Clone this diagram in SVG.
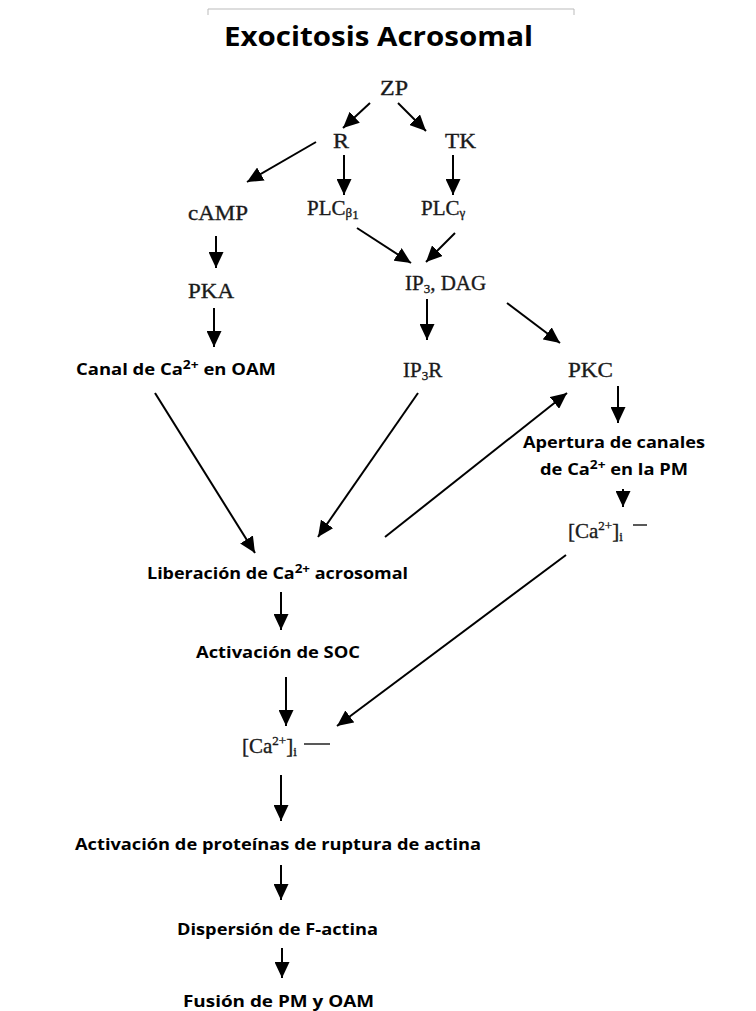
<svg xmlns="http://www.w3.org/2000/svg" width="756" height="1011" viewBox="0 0 756 1011">
<defs>
<marker id="ah" markerUnits="userSpaceOnUse" markerWidth="16" markerHeight="15" refX="16" refY="7.5" orient="auto">
<path d="M0,0 L16,7.5 L0,15 z" fill="#000"/>
</marker>
<style>
.s{font-family:"Liberation Serif","Times New Roman",serif;font-size:21px;fill:#1a1a1a;stroke:#1a1a1a;stroke-width:0.35px;}
.b{font-family:"Open Sans","Liberation Sans",sans-serif;font-weight:bold;font-size:16px;fill:#000;}
.t{font-family:"Open Sans","Liberation Sans",sans-serif;font-weight:bold;font-size:26px;fill:#000;}
.c line{stroke:#000;stroke-width:2;marker-end:url(#ah);}
.sub{font-size:12px;}
.s .sub{font-size:13px;}
</style>
</defs>
<rect width="756" height="1011" fill="#fff"/>
<path d="M208,15 L208,9 L574,9 L574,15" fill="none" stroke="#bbb" stroke-width="1"/>
<text class="t" x="224" y="46" textLength="309" lengthAdjust="spacingAndGlyphs">Exocitosis Acrosomal</text>

<g id="n-zp"><text class="s" x="380" y="95" textLength="28" lengthAdjust="spacingAndGlyphs">ZP</text></g>
<g id="n-r"><text class="s" x="333" y="148" textLength="16" lengthAdjust="spacingAndGlyphs">R</text></g>
<g id="n-tk"><text class="s" x="445" y="148" textLength="31" lengthAdjust="spacingAndGlyphs">TK</text></g>
<g id="n-camp"><text class="s" x="188" y="220" textLength="60" lengthAdjust="spacingAndGlyphs">cAMP</text></g>
<g id="n-plcb"><text class="s" x="307" y="215">PLC<tspan class="sub" dy="2">β</tspan><tspan class="sub" font-size="11" dy="2">1</tspan></text></g>
<g id="n-plcg"><text class="s" x="421" y="215">PLC<tspan class="sub" dy="2">γ</tspan></text></g>
<g id="n-pka"><text class="s" x="188" y="298" textLength="46" lengthAdjust="spacingAndGlyphs">PKA</text></g>
<g id="n-ip3dag"><text class="s" x="405" y="290">IP<tspan class="sub" dy="3">3</tspan><tspan dy="-3">, DAG</tspan></text></g>
<g id="n-canal"><text class="b" x="76" y="375" textLength="200" lengthAdjust="spacingAndGlyphs">Canal de Ca<tspan class="sub" dy="-6">2+</tspan><tspan dy="6"> en OAM</tspan></text></g>
<g id="n-ip3r"><text class="s" x="403" y="377">IP<tspan class="sub" dy="3">3</tspan><tspan dy="-3">R</tspan></text></g>
<g id="n-pkc"><text class="s" x="568" y="377" textLength="45" lengthAdjust="spacingAndGlyphs">PKC</text></g>
<g id="n-apertura">
<text class="b" x="523" y="448" textLength="182" lengthAdjust="spacingAndGlyphs">Apertura de canales</text>
<text class="b" x="540" y="475" textLength="148" lengthAdjust="spacingAndGlyphs">de Ca<tspan class="sub" dy="-6">2+</tspan><tspan dy="6"> en la PM</tspan></text>
</g>
<g id="n-ca-pm">
<text class="s" x="568" y="538">[Ca<tspan class="sub" dy="-8">2+</tspan><tspan dy="8">]</tspan><tspan class="sub" dy="3">i</tspan></text>
<line x1="633" y1="525" x2="647" y2="525" stroke="#222" stroke-width="1.5"/>
</g>
<g id="n-liberacion"><text class="b" x="147" y="579" textLength="261" lengthAdjust="spacingAndGlyphs">Liberación de Ca<tspan class="sub" dy="-6">2+</tspan><tspan dy="6"> acrosomal</tspan></text></g>
<g id="n-soc"><text class="b" x="196" y="658" textLength="164" lengthAdjust="spacingAndGlyphs">Activación de SOC</text></g>
<g id="n-ca-i">
<text class="s" x="242" y="753">[Ca<tspan class="sub" dy="-8">2+</tspan><tspan dy="8">]</tspan><tspan class="sub" dy="3">i</tspan></text>
<line x1="304" y1="744" x2="330" y2="744" stroke="#222" stroke-width="1.5"/>
</g>
<g id="n-proteinas"><text class="b" x="75" y="850" textLength="406" lengthAdjust="spacingAndGlyphs">Activación de proteínas de ruptura de actina</text></g>
<g id="n-dispersion"><text class="b" x="177" y="935" textLength="201" lengthAdjust="spacingAndGlyphs">Dispersión de F-actina</text></g>
<g id="n-fusion"><text class="b" x="183" y="1007" textLength="191" lengthAdjust="spacingAndGlyphs">Fusión de PM y OAM</text></g>

<g id="connectors" class="c">
<line x1="370" y1="103" x2="343" y2="128"/>
<line x1="398" y1="103" x2="426" y2="131"/>
<line x1="316" y1="142" x2="247" y2="182"/>
<line x1="344" y1="155" x2="344" y2="195"/>
<line x1="453" y1="155" x2="453" y2="195"/>
<line x1="216" y1="236" x2="216" y2="268"/>
<line x1="214" y1="308" x2="214" y2="347"/>
<line x1="357" y1="228" x2="411" y2="263"/>
<line x1="455" y1="233" x2="426" y2="262"/>
<line x1="427" y1="299" x2="427" y2="340"/>
<line x1="507" y1="303" x2="560" y2="343"/>
<line x1="618" y1="386" x2="618" y2="423"/>
<line x1="623" y1="489" x2="623" y2="507"/>
<line x1="155" y1="393" x2="255" y2="553"/>
<line x1="418" y1="393" x2="318" y2="537"/>
<line x1="385" y1="537" x2="567" y2="393"/>
<line x1="566" y1="555" x2="337" y2="726"/>
<line x1="281" y1="592" x2="281" y2="630"/>
<line x1="286" y1="677" x2="286" y2="726"/>
<line x1="281" y1="775" x2="281" y2="821"/>
<line x1="281" y1="865" x2="281" y2="900"/>
<line x1="282" y1="948" x2="282" y2="978"/>
</g>
</svg>
